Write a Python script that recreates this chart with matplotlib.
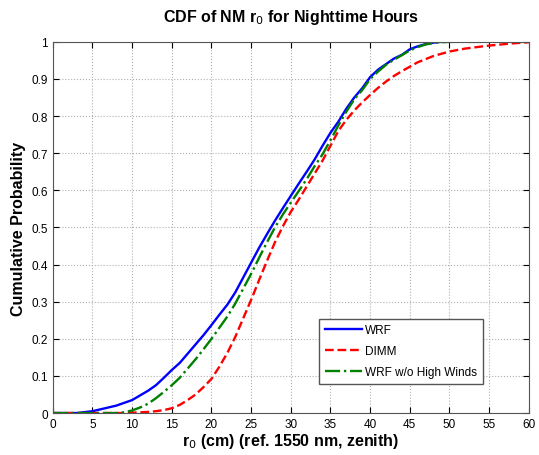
import matplotlib.pyplot as plt

plt.rcParams['font.family'] = ['Liberation Sans', 'DejaVu Sans']

# curve samples (r0 in cm, cumulative probability)
wrf_x = [0, 3, 5, 7, 8, 10, 12, 13, 14, 15, 16, 17, 18, 19, 20, 21, 22, 23, 24, 25, 26, 27, 28,
         29, 30, 31, 32, 33, 34, 35, 36, 37, 38, 39, 40, 41, 42, 43, 44, 45, 46, 47, 48, 49]
wrf_y = [0, 0, 0.005, 0.015, 0.02, 0.035, 0.06, 0.075, 0.095, 0.116, 0.135, 0.16, 0.185, 0.21,
         0.237, 0.265, 0.292, 0.325, 0.365, 0.405, 0.445, 0.482, 0.518, 0.552, 0.585, 0.618, 0.65,
         0.683, 0.72, 0.755, 0.785, 0.82, 0.85, 0.875, 0.905, 0.925, 0.94, 0.955, 0.965, 0.98,
         0.988, 0.994, 0.998, 1.0]

dimm_x = [0, 9, 10, 11, 12, 13, 14, 15, 16, 17, 18, 19, 20, 21, 22, 23, 24, 25, 26, 27, 28, 29,
          30, 31, 32, 33, 34, 35, 36, 37, 38, 39, 40, 41, 42, 43, 44, 45, 46, 48, 50, 52, 55, 58, 60]
dimm_y = [0, 0, 0.001, 0.002, 0.003, 0.005, 0.008, 0.013, 0.022, 0.035, 0.05, 0.07, 0.092, 0.125,
          0.162, 0.205, 0.255, 0.305, 0.358, 0.41, 0.46, 0.503, 0.542, 0.575, 0.61, 0.645, 0.68,
          0.72, 0.76, 0.79, 0.815, 0.837, 0.857, 0.876, 0.893, 0.908, 0.921, 0.933, 0.945, 0.962,
          0.974, 0.982, 0.99, 0.996, 0.999]

nowind_x = [0, 8, 9, 10, 11, 12, 13, 14, 15, 16, 17, 18, 19, 20, 21, 22, 23, 24, 25, 26, 27, 28,
            29, 30, 31, 32, 33, 34, 35, 36, 37, 38, 39, 40, 41, 42, 43, 44, 45, 46, 47, 48, 49, 50, 54]
nowind_y = [0, 0, 0.002, 0.007, 0.015, 0.025, 0.04, 0.057, 0.075, 0.095, 0.12, 0.145, 0.172,
            0.2, 0.23, 0.26, 0.295, 0.335, 0.375, 0.418, 0.46, 0.5, 0.535, 0.567, 0.598, 0.63,
            0.665, 0.697, 0.735, 0.775, 0.812, 0.845, 0.87, 0.9, 0.92, 0.938, 0.952, 0.964, 0.977,
            0.986, 0.993, 0.997, 0.999, 1.0, 1.0]

fig = plt.figure(figsize=(5.39, 4.56), dpi=100)
ax = fig.add_axes([0.098, 0.092, 0.883, 0.814])

ax.plot(wrf_x, wrf_y, color='#0000ff', linestyle='-', linewidth=1.7, label='WRF')
ax.plot(dimm_x, dimm_y, color='#ff0000', linestyle='--', linewidth=1.7, label='DIMM')
ax.plot(nowind_x, nowind_y, color='#008000', linestyle='-.', linewidth=1.7, label='WRF w/o High Winds')

ax.set_xlim(0, 60)
ax.set_ylim(0, 1)
ax.set_xticks(range(0, 61, 5))
ax.set_yticks([i / 10 for i in range(11)])
ax.set_yticklabels(['0', '0.1', '0.2', '0.3', '0.4', '0.5', '0.6', '0.7', '0.8', '0.9', '1'])
ax.tick_params(direction='in', top=True, right=True, labelsize=8.5, length=4)
ax.grid(True, linestyle=':', color='#b0b0b0', linewidth=0.8)
for s in ax.spines.values():
    s.set_color('#555555')

ax.set_title('CDF of NM r$_0$ for Nighttime Hours', fontsize=11.5, fontweight='bold', pad=15)
ax.set_xlabel('r$_0$ (cm) (ref. 1550 nm, zenith)', fontsize=11.5, fontweight='bold', labelpad=1)
ax.set_ylabel('Cumulative Probability', fontsize=11.5, fontweight='bold')

leg = ax.legend(loc='lower right', bbox_to_anchor=(0.903, 0.078), borderaxespad=0, fontsize=8.5,
                fancybox=False, framealpha=1, edgecolor='#555555', handlelength=3.2,
                borderpad=0.5, labelspacing=0.75, handletextpad=0.2)

plt.savefig('out.png')
